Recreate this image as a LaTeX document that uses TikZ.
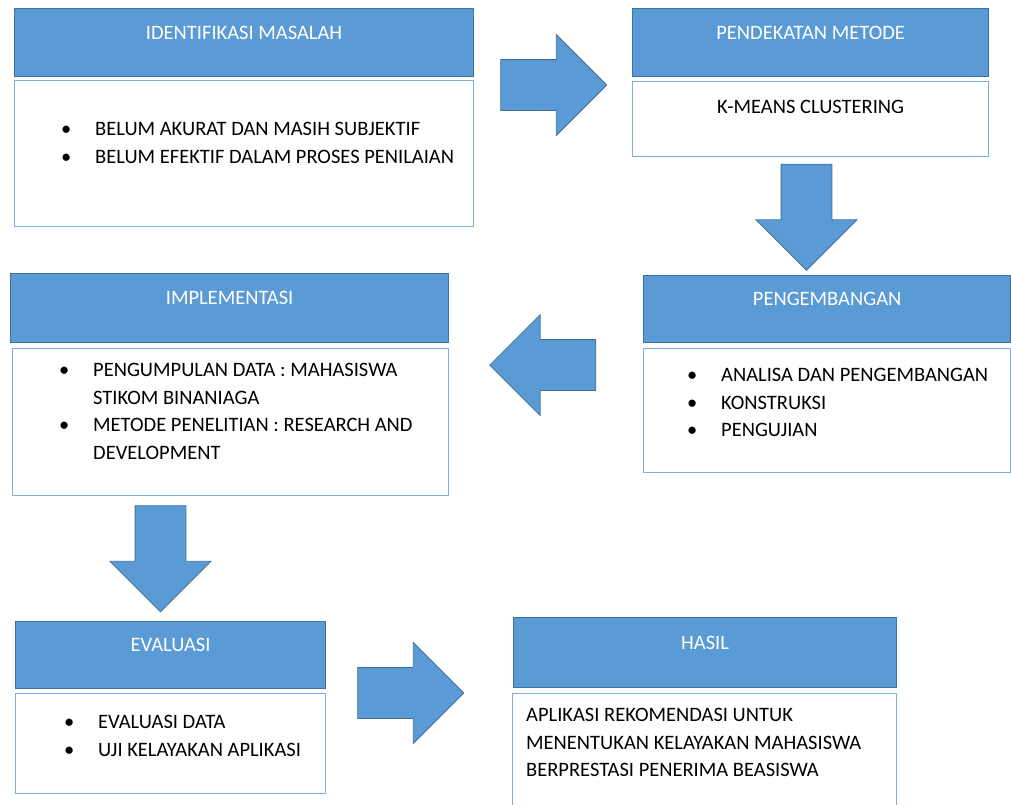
\documentclass[tikz,border=0pt]{standalone}
\usepackage{fontspec}
\setmainfont{Carlito}
\usetikzlibrary{shapes.arrows}
\definecolor{hdrblue}{HTML}{5B9BD5}
\definecolor{hdredge}{HTML}{41719C}
\definecolor{bodyedge}{HTML}{7EAFDF}
\newcommand{\blt}{\llap{\makebox[0pt]{\textbullet}\hspace{29pt}}}

\begin{document}
\begin{tikzpicture}[
      x=1pt, y=-1pt,
      hdr/.style={draw=hdredge, line width=1.2pt, fill=hdrblue, text=white, anchor=north west, inner sep=0pt,
                  text height=13.2pt, text depth=20pt, font=\fontsize{20.5}{27.5}\selectfont},
      bodybox/.style={draw=bodyedge, line width=1.2pt, fill=white, anchor=north west, inner sep=0pt},
      txt/.style={inner sep=0pt, align=left, anchor=north west, font=\fontsize{20.5}{27.5}\selectfont},
      barrow/.style={single arrow, draw=hdredge, line width=0.8pt, fill=hdrblue, inner xsep=0pt, inner ysep=25pt,
                     minimum height=106pt, minimum width=100pt, single arrow head extend=25pt}
  ]
    \useasboundingbox (0,0) rectangle (1011,804);
    % top row
    \node[hdr, minimum width=459pt, minimum height=68pt] (identHdr) at (14,8) {IDENTIFIKASI MASALAH};
    \node[bodybox, minimum width=459pt, minimum height=146pt] (identBody) at (14,80) {};
    \node[txt] (identTxt) at ([xshift=81pt, yshift=-42.4pt]identBody.north west)
      {\blt BELUM AKURAT DAN MASIH SUBJEKTIF\\ \blt BELUM EFEKTIF DALAM PROSES PENILAIAN};
    \node[hdr, minimum width=356pt, minimum height=68pt] (metodeHdr) at (632,8) {PENDEKATAN METODE};
    \node[bodybox, minimum width=356pt, minimum height=75pt] (metodeBody) at (632,81) {};
    \node[txt, anchor=center] (metodeTxt) at ([yshift=-26pt]metodeBody.north) {K-MEANS CLUSTERING};
    % middle row
    \node[hdr, minimum width=367pt, minimum height=67pt] (kembangHdr) at (643,275) {PENGEMBANGAN};
    \node[bodybox, minimum width=367pt, minimum height=124pt] (kembangBody) at (643,348) {};
    \node[txt] (kembangTxt) at ([xshift=78pt, yshift=-20.4pt]kembangBody.north west)
      {\blt ANALISA DAN PENGEMBANGAN\\ \blt KONSTRUKSI\\ \blt PENGUJIAN};
    \node[hdr, minimum width=438pt, minimum height=69pt] (implHdr) at (10,273) {IMPLEMENTASI};
    \node[bodybox, minimum width=436pt, minimum height=147pt] (implBody) at (12,348) {};
    \node[txt] (implTxt) at ([xshift=81pt, yshift=-15.4pt]implBody.north west)
      {\blt PENGUMPULAN DATA : MAHASISWA\\ STIKOM BINANIAGA\\ \blt METODE PENELITIAN : RESEARCH AND\\ DEVELOPMENT};
    % bottom row
    \node[hdr, minimum width=310pt, minimum height=67pt] (evalHdr) at (15,621) {EVALUASI};
    \node[bodybox, minimum width=310pt, minimum height=100pt] (evalBody) at (15,693) {};
    \node[txt] (evalTxt) at ([xshift=83pt, yshift=-22.4pt]evalBody.north west)
      {\blt EVALUASI DATA\\ \blt UJI KELAYAKAN APLIKASI};
    \node[hdr, minimum width=383pt, minimum height=70pt] (hasilHdr) at (513,617) {HASIL};
    \node[bodybox, minimum width=384pt, minimum height=130pt] (hasilBody) at (512,693) {};
    \node[txt] (hasilTxt) at ([xshift=14pt, yshift=-15.4pt]hasilBody.north west)
      {APLIKASI REKOMENDASI UNTUK\\ MENENTUKAN KELAYAKAN MAHASISWA\\ BERPRESTASI PENERIMA BEASISWA};
    % block arrows
    \node[barrow] (arrMetode) at (541,85) {};
    \node[barrow, rotate=-90] (arrKembang) at (806.5,204.5) {};
    \node[barrow, rotate=180] (arrImpl) at (555.5,365) {};
    \node[barrow, rotate=-90] (arrEval) at (160.5,546) {};
    \node[barrow] (arrHasil) at (398,693) {};
\end{tikzpicture}
\end{document}
